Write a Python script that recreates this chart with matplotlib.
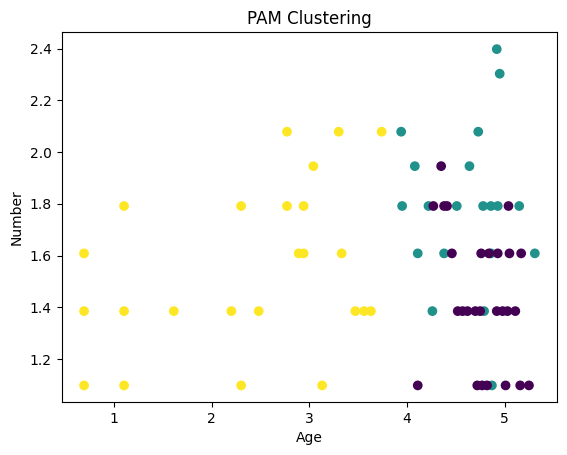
import numpy as np
import matplotlib
matplotlib.use("Agg")
import matplotlib.pyplot as plt

# cluster 0 (purple)
age_0 = [4.35,
         4.27, 4.38, 4.41, 5.04,
         4.46, 4.76, 4.84, 4.93, 5.05, 5.17,
         4.52, 4.57, 4.62, 4.70, 4.75, 4.92, 4.98, 5.03, 5.11,
         4.11, 4.72, 4.77, 4.82, 5.01, 5.16, 5.25]
num_0 = [1.946,
         1.792, 1.792, 1.792, 1.792,
         1.609, 1.609, 1.609, 1.609, 1.609, 1.609,
         1.386, 1.386, 1.386, 1.386, 1.386, 1.386, 1.386, 1.386, 1.386,
         1.099, 1.099, 1.099, 1.099, 1.099, 1.099, 1.099]

# cluster 1 (teal)
age_1 = [4.92, 4.95,
         3.94, 4.73,
         4.08, 4.64,
         3.95, 4.22, 4.51, 4.78, 4.86, 4.93, 5.15,
         4.11, 4.38, 4.86, 5.31,
         4.26, 4.79,
         4.87]
num_1 = [2.398, 2.303,
         2.079, 2.079,
         1.946, 1.946,
         1.792, 1.792, 1.792, 1.792, 1.792, 1.792, 1.792,
         1.609, 1.609, 1.609, 1.609,
         1.386, 1.386,
         1.099]

# cluster 2 (yellow)
age_2 = [2.77, 3.30, 3.74,
         3.04,
         1.10, 2.30, 2.77, 2.94,
         0.69, 2.89, 2.94, 3.33,
         0.69, 1.10, 1.61, 2.20, 2.48, 3.47, 3.56, 3.63,
         0.69, 1.10, 2.30, 3.13]
num_2 = [2.079, 2.079, 2.079,
         1.946,
         1.792, 1.792, 1.792, 1.792,
         1.609, 1.609, 1.609, 1.609,
         1.386, 1.386, 1.386, 1.386, 1.386, 1.386, 1.386, 1.386,
         1.099, 1.099, 1.099, 1.099]

age = np.array(age_1 + age_0 + age_2)
number = np.array(num_1 + num_0 + num_2)
labels = np.array([1] * len(age_1) + [0] * len(age_0) + [2] * len(age_2))

fig = plt.figure(figsize=(5.67, 4.55), dpi=100)
ax = fig.add_subplot(111)
fig.subplots_adjust(left=0.1085, right=0.983, top=0.929, bottom=0.116)
ax.scatter(age, number, c=labels, cmap="viridis")
ax.set_xlabel("Age")
ax.set_ylabel("Number")
ax.set_title("PAM Clustering")
fig.savefig("out.png", dpi=100)
